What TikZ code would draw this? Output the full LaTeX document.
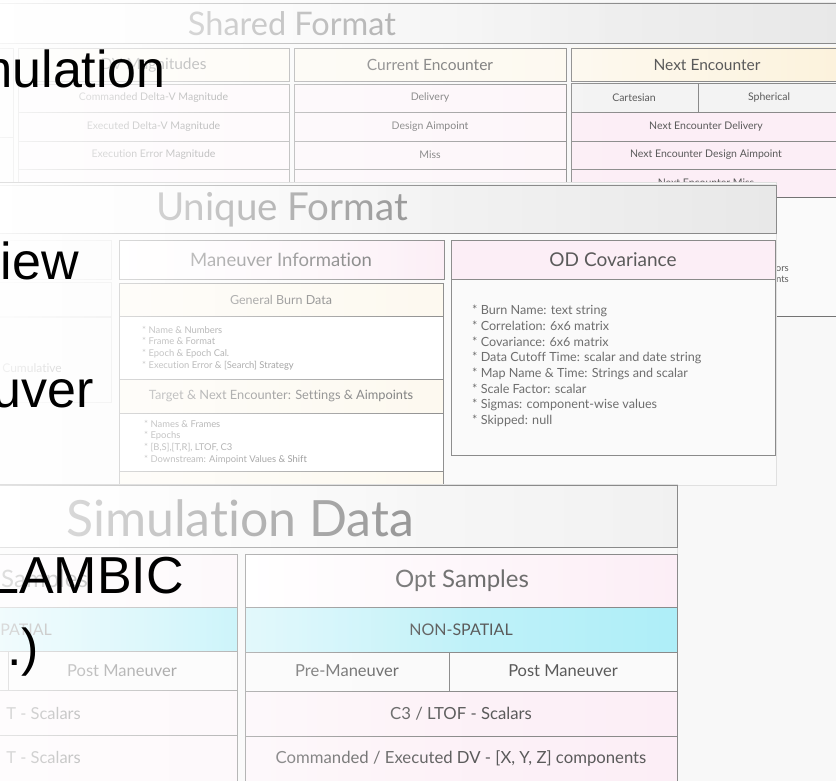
\documentclass[tikz,border=0pt]{standalone}
\usepackage{fontspec}
\setmainfont{Lato}[Ligatures={NoCommon}]
\newfontfamily\arialf{Liberation Sans}
\usetikzlibrary{fadings}
\definecolor{bg}{HTML}{F8F8F8}
\definecolor{bgb}{HTML}{FAFAFA}
\definecolor{bord}{HTML}{8A8A8A}
\definecolor{bordl}{HTML}{DADADA}
\definecolor{cream}{HTML}{FDF9EF}
\definecolor{creamr}{HTML}{FCF2DC}
\definecolor{pinkr}{HTML}{FCEEF6}
\definecolor{pinkl}{HTML}{FDF5F9}
\definecolor{cyanr}{HTML}{AEEEF8}
\definecolor{cyanl}{HTML}{D2F5FA}
\definecolor{greyfill}{HTML}{F3F3F3}
\definecolor{txt}{HTML}{5A5A5A}
\definecolor{txtl}{HTML}{6E6E6E}
\definecolor{ttl}{HTML}{8C8C8C}
\definecolor{titlebar}{HTML}{E8E8E8}
\tikzfading[name=washL, left color=transparent!8, right color=transparent!100]
\tikzfading[name=washS, left color=transparent!22, right color=transparent!100]
\begin{document}
\begin{tikzpicture}[x=1pt,y=-1pt,
  cell/.style={draw=bord, line width=0.9pt},
  celll/.style={draw=bordl, line width=0.9pt},
  lbl/.style={text=txt, inner sep=0pt},
  fs/.style={font=\fontsize{#1}{#1}\selectfont},
  blk/.style={text=black, inner sep=0pt, anchor=base east, font=\arialf\fontsize{52}{52}\selectfont},
  wash/.style={fill=white, path fading=washL},
  washs/.style={fill=white, path fading=washS}]
\useasboundingbox (0,0) rectangle (836,781);
\clip (0,0) rectangle (836,781);
\fill[bg] (0,0) rectangle (836,781);

% ---------------- Shared Format layer ----------------
\draw[cell, left color=white, right color=titlebar] (-5,3) rectangle (845,43);
\node[lbl, text=ttl, fs=32.5] (tshared) at (292,24) {Shared Format};
\draw[cell] (-20,48) rectangle (13,137);
\draw[cell] (-20,137) rectangle (13,200);
% column 1
\draw[cell, fill=cream] (18,48) rectangle (289,81);
\node[lbl, fs=15.5] (c1h) at (153.5,65) {DV Magnitudes};
\draw[cell, fill=pinkl] (18,84) rectangle (289,112);
\draw[cell, fill=pinkl] (18,112) rectangle (289,141);
\draw[cell, fill=pinkl] (18,141) rectangle (289,169);
\draw[cell, fill=pinkl] (18,169) rectangle (289,200);
\node[lbl, fs=10.5] (c1a) at (153.5,98) {Commanded Delta-V Magnitude};
\node[lbl, fs=10.5] (c1b) at (153.5,127) {Executed Delta-V Magnitude};
\node[lbl, fs=10.5] (c1c) at (153.5,155) {Execution Error Magnitude};
\node[lbl, fs=10.5, anchor=west] (c1d) at (33,187) {* Burn Name: text string (C05-TRC-01)};
% column 2
\draw[cell, fill=cream] (294,48) rectangle (566,81);
\node[lbl, fs=15.5] (c2h) at (430,65) {Current Encounter};
\draw[cell, fill=pinkl] (294,84) rectangle (566,112);
\draw[cell, fill=pinkl] (294,112) rectangle (566,141);
\draw[cell, fill=pinkl] (294,141) rectangle (566,169);
\draw[cell, fill=pinkl] (294,169) rectangle (566,200);
\node[lbl, fs=10.5] (c2a) at (430,98) {Delivery};
\node[lbl, fs=10.5] (c2b) at (430,127) {Design Aimpoint};
\node[lbl, fs=10.5] (c2c) at (430,155) {Miss};
\node[lbl, fs=10.5, anchor=west] (c2d) at (307,187) {* Burn Name:};
\node[lbl, fs=10.5, anchor=west] (c2e) at (407,187) {C05-TRC-01};
% column 3
\draw[cell, left color=cream, right color=creamr] (571,48) rectangle (845,81);
\node[lbl, fs=15.5] (c3h) at (707,65) {Next Encounter};
\draw[cell, fill=greyfill] (571,83) rectangle (698,112);
\draw[cell, fill=greyfill] (698,83) rectangle (845,112);
\node[lbl, fs=10.5] (c3x) at (634,98) {Cartesian};
\node[lbl, fs=10.5] (c3y) at (769,98) {Spherical};
\draw[cell, fill=pinkr] (571,112) rectangle (845,141);
\draw[cell, fill=pinkr] (571,141) rectangle (845,169);
\draw[cell, fill=pinkr] (571,169) rectangle (845,197);
\node[lbl, fs=10.5] (c3a) at (706,127) {Next Encounter Delivery};
\node[lbl, fs=10.5] (c3b) at (706,155) {Next Encounter Design Aimpoint};
\node[lbl, fs=10.5] (c3c) at (706,183) {Next Encounter Miss};
\draw[cell, draw=black!55, fill=bgb] (571,197) rectangle (845,316);
\node[lbl, fs=9.5, anchor=east] (c3d) at (789,268) {* Cumulative Errors};
\node[lbl, fs=9.5, anchor=east] (c3e) at (789,280) {* Downstream Aimpoints};
\fill[wash] (0,0) rectangle (640,200);

% ---------------- Unique Format layer ----------------
\fill[black!12] (-5,182) rectangle (777,486);
\fill[bgb] (-5,183) rectangle (776,485);
\draw[cell, left color=white, right color=titlebar] (-5,185) rectangle (776,233);
\node[lbl, text=ttl, fs=38.5] (tunique) at (282,210) {Unique Format};
\draw[celll] (-20,240) rectangle (111,279);
\draw[celll] (-20,282) rectangle (111,316);
\draw[celll] (-20,317) rectangle (111,402);
\node[lbl, fs=12, anchor=east] (ucum) at (62,368) {Cumulative};
% maneuver information
\draw[cell, left color=white, right color=pinkr] (119,240) rectangle (444,279);
\node[lbl, text=txtl, fs=18.5] (umi) at (281,260) {Maneuver Information};
\draw[cell, fill=cream] (119,283) rectangle (443,316);
\node[lbl, text=txtl, fs=12.5] (ugb) at (281,300) {General Burn Data};
\draw[cell, fill=white] (119,316) rectangle (443,379);
\node[lbl, text=txtl, anchor=west, align=left, font=\fontsize{9.4}{11.7}\selectfont] (ul1) at (142,348)
  {* Name \& Numbers\\* Frame \& Format\\* Epoch \& Epoch Cal.\\* Execution Error \& [Search] Strategy};
\draw[cell, fill=cream] (119,379) rectangle (443,413);
\node[lbl, text=txtl, fs=12.8] (utn) at (281,396) {Target \& Next Encounter: Settings \& Aimpoints};
\draw[cell, fill=white] (119,413) rectangle (443,471);
\node[lbl, text=txtl, anchor=west, align=left, font=\fontsize{9.4}{11.7}\selectfont] (ul2) at (144,442)
  {* Names \& Frames\\* Epochs\\* [B,S],[T,R], LTOF, C3\\* Downstream: Aimpoint Values \& Shift};
\draw[cell, fill=cream] (119,471) rectangle (443,500);
% OD covariance
\draw[cell, fill=pinkr] (451,240) rectangle (775,279);
\node[lbl, fs=19] (uod) at (613,260) {OD Covariance};
\draw[cell, fill=bgb] (451,279) rectangle (775,455);
\node[lbl, text=txtl, anchor=west, align=left, font=\fontsize{12.6}{15.7}\selectfont] (uodl) at (472,366)
  {* Burn Name: text string\\* Correlation: 6x6 matrix\\* Covariance: 6x6 matrix\\* Data Cutoff Time: scalar and date string\\* Map Name \& Time: Strings and scalar\\* Scale Factor: scalar\\* Sigmas: component-wise values\\* Skipped: null};
\fill[wash] (0,183) rectangle (470,485);

% ---------------- Simulation Data layer ----------------
\fill[black!12] (-5,484) rectangle (678,781);
\fill[bg] (-5,485) rectangle (677,781);
\draw[cell, left color=white, right color=titlebar!60!white] (-5,485) rectangle (677,547);
\node[lbl, text=ttl, fs=50] (tsim) at (240,518) {Simulation Data};
% left column
\draw[cell, left color=white, right color=pinkl] (-197,554) rectangle (237,607);
\node[lbl, text=txtl, fs=24, anchor=west] (sls) at (1,581) {Samples};
\draw[cell, left color=cyanl, right color=cyanr] (-197,607) rectangle (237,651);
\node[lbl, fs=16, anchor=east] (slsp) at (52,630) {SPATIAL};
\draw[cell, fill=bgb] (-197,651) rectangle (8,690);
\draw[cell, fill=bgb] (8,651) rectangle (237,690);
\node[lbl, fs=16.5] (slpm) at (122,671) {Post Maneuver};
\draw[cell, fill=pinkl] (-197,690) rectangle (237,735);
\draw[cell, fill=pinkl] (-197,735) rectangle (237,790);
\node[lbl, fs=16.5, anchor=east] (sla) at (81,713) {T - Scalars};
\node[lbl, fs=16.5, anchor=east] (slb) at (81,757) {T - Scalars};
% right column
\draw[cell, left color=white, right color=pinkr] (245,554) rectangle (677,607);
\node[lbl, text=txtl, fs=24] (sopt) at (462,581) {Opt Samples};
\draw[cell, left color=cyanl, right color=cyanr] (245,607) rectangle (677,652);
\node[lbl, fs=16] (snon) at (461,630) {NON-SPATIAL};
\draw[cell, fill=bgb] (245,652) rectangle (449,691);
\draw[cell, fill=bgb] (449,652) rectangle (677,691);
\node[lbl, fs=16.5] (spre) at (347,671) {Pre-Maneuver};
\node[lbl, fs=16.5] (spost) at (563,671) {Post Maneuver};
\draw[cell, left color=pinkl, right color=pinkr] (245,691) rectangle (677,736);
\node[lbl, fs=16.7] (sc3) at (461,714) {C3 / LTOF - Scalars};
\draw[cell, left color=pinkl, right color=pinkr] (245,736) rectangle (677,790);
\node[lbl, fs=16.7] (scmd) at (461,759) {Commanded / Executed DV - [X, Y, Z] components};
\fill[washs] (0,485) rectangle (470,781);

% ---------------- foreground black text ----------------
\node[blk] (b1) at (166,88) {mulation};
\node[blk] (b2) at (79,279) {iew};
\node[blk] (b3) at (94,407) {uver};
\node[blk] (b4) at (184,593) {LAMBIC};
\node[blk] (b5) at (39,665) {.)};
\end{tikzpicture}
\end{document}
